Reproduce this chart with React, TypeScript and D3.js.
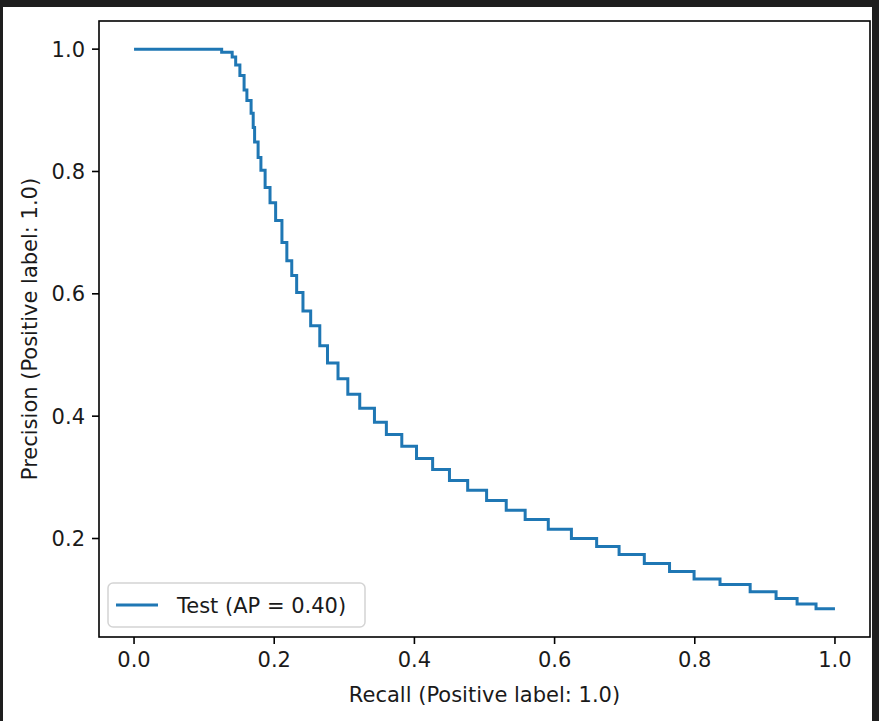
import React from "react";
import * as d3 from "d3";

const recall = [0, 0.125, 0.14, 0.145, 0.151, 0.157, 0.161, 0.167, 0.17, 0.172, 0.177, 0.181, 0.187, 0.194, 0.202, 0.211, 0.218, 0.225, 0.232, 0.241, 0.252, 0.265, 0.276, 0.291, 0.305, 0.322, 0.343, 0.36, 0.382, 0.403, 0.426, 0.45, 0.476, 0.503, 0.531, 0.558, 0.591, 0.624, 0.66, 0.692, 0.728, 0.764, 0.799, 0.836, 0.879, 0.916, 0.946, 0.973, 1.0];
const precision = [1.0, 0.995, 0.987, 0.974, 0.957, 0.933, 0.916, 0.895, 0.872, 0.848, 0.823, 0.802, 0.774, 0.749, 0.72, 0.684, 0.654, 0.63, 0.602, 0.572, 0.548, 0.515, 0.487, 0.461, 0.436, 0.413, 0.39, 0.37, 0.351, 0.331, 0.313, 0.295, 0.279, 0.262, 0.246, 0.231, 0.215, 0.2, 0.187, 0.174, 0.159, 0.146, 0.134, 0.125, 0.113, 0.102, 0.093, 0.085, 0.085];

const xTicks = [0, 0.2, 0.4, 0.6, 0.8, 1.0];
const yTicks = [0.2, 0.4, 0.6, 0.8, 1.0];
const xLabel = "Recall (Positive label: 1.0)";
const yLabel = "Precision (Positive label: 1.0)";
const legendLabel = "Test (AP = 0.40)";

const W = 879;
const H = 721;
const L = 99, R = 870, T = 21, B = 637;
const FONT = "'DejaVu Sans', sans-serif";
const FS = 21;
const TXT = "#1a1a1a";

export default function App() {
  const x = d3.scaleLinear().domain([-0.05, 1.05]).range([L, R]);
  const y = d3.scaleLinear().domain([0.039, 1.046]).range([B, T]);
  const pts: [number, number][] = recall.map((r, i) => [r, precision[i]]);
  const line = d3
    .line<[number, number]>()
    .x((d) => x(d[0]))
    .y((d) => y(d[1]))
    .curve(d3.curveStepAfter);

  return (
    <svg
      width={W}
      height={H}
      style={{ position: "absolute", left: 0, top: 0, background: "#fff" }}
      fontFamily={FONT}
    >
      <rect x={0} y={0} width={W} height={H} fill="#fff" />
      {/* dark window frame */}
      <rect x={0} y={0} width={W} height={7} fill="#1e1e1e" />
      <rect x={0} y={0} width={3} height={H} fill="#1e1e1e" />
      <rect x={872} y={0} width={W - 872} height={H} fill="#1e1e1e" />

      <path d={line(pts) || ""} fill="none" stroke="#1f77b4" strokeWidth={3} strokeLinejoin="miter" />

      {/* axes frame */}
      <rect x={L} y={T} width={R - L} height={B - T} fill="none" stroke="#000" strokeWidth={1.6} />

      {/* x ticks */}
      {xTicks.map((t) => (
        <g key={"x" + t}>
          <line x1={x(t)} x2={x(t)} y1={B} y2={B + 7} stroke="#000" strokeWidth={1.6} />
          <text x={x(t)} y={B + 30} textAnchor="middle" fontSize={FS} fill={TXT}>
            {t.toFixed(1)}
          </text>
        </g>
      ))}
      {/* y ticks */}
      {yTicks.map((t) => (
        <g key={"y" + t}>
          <line x1={L - 7} x2={L} y1={y(t)} y2={y(t)} stroke="#000" strokeWidth={1.6} />
          <text x={L - 14} y={y(t) + 7.5} textAnchor="end" fontSize={FS} fill={TXT}>
            {t.toFixed(1)}
          </text>
        </g>
      ))}

      <text x={(L + R) / 2} y={702} textAnchor="middle" fontSize={FS} fill={TXT}>
        {xLabel}
      </text>
      <text
        transform={`translate(37, ${(T + B) / 2}) rotate(-90)`}
        textAnchor="middle"
        fontSize={FS}
        fill={TXT}
      >
        {yLabel}
      </text>

      {/* legend */}
      <rect x={108} y={583} width={257} height={44} rx={5} ry={5} fill="#fff" fillOpacity={0.8} stroke="#d4d4d4" strokeWidth={1.5} />
      <line x1={116} x2={158} y1={605} y2={605} stroke="#1f77b4" strokeWidth={3} />
      <text x={177} y={612.5} fontSize={FS} fill={TXT}>
        {legendLabel}
      </text>
    </svg>
  );
}
